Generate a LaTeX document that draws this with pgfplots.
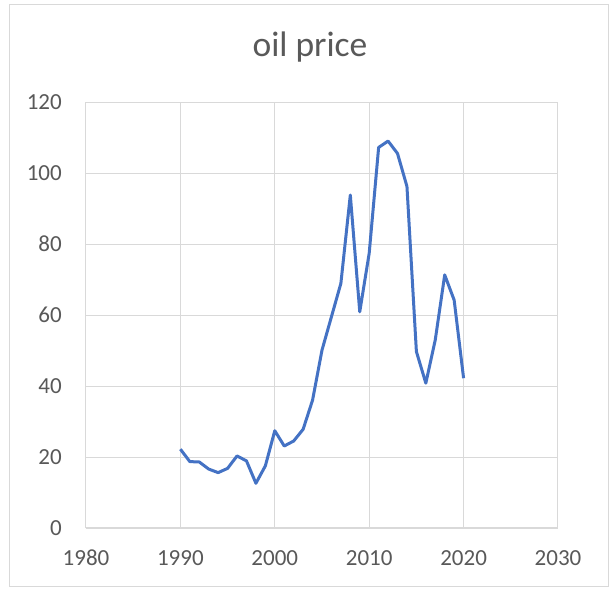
\documentclass[border=0pt]{standalone}
\usepackage{fontspec}
\setmainfont{Carlito}
\usepackage{pgfplots}
\pgfplotsset{compat=1.18}
\definecolor{excelblue}{HTML}{4472C4}
\definecolor{gridgray}{HTML}{D9D9D9}
\definecolor{textgray}{HTML}{595959}

\pgfplotstableread{
year price
1990 22.2
1991 18.7
1992 18.6
1993 16.6
1994 15.6
1995 16.8
1996 20.3
1997 18.9
1998 12.6
1999 17.5
2000 27.4
2001 23.1
2002 24.5
2003 27.8
2004 36.0
2005 50.1
2006 59.5
2007 68.9
2008 93.8
2009 60.9
2010 77.4
2011 107.2
2012 109.0
2013 105.5
2014 96.2
2015 49.7
2016 40.8
2017 53.0
2018 71.3
2019 64.2
2020 42.2
}\oilprice

\begin{document}
\begin{tikzpicture}
% page background and chart frame (units: 1pt = 1px of the reference)
\fill[white] (-86pt,-62pt) rectangle (525pt,528pt);
\draw[gridgray, line width=1pt] (-76pt,-58pt) rectangle (522pt,523pt);
\node[anchor=base, text=textgray, font=\fontsize{35.5}{40}\selectfont] at (224pt,471pt) {oil price};
\begin{axis}[
    at={(0pt,0pt)}, anchor=south west,
    width=472pt, height=426pt, scale only axis,
    xmin=1980, xmax=2030, ymin=0, ymax=120,
    xtick={1980,1990,...,2030}, ytick={0,20,...,120},
    grid=major, major grid style={gridgray, line width=1pt},
    axis line style={draw=none},
    axis x line*=bottom, axis y line*=left,
    x axis line style={draw=gridgray, line width=1.2pt},
    major tick length=0pt,
    tick label style={text=textgray, font=\fontsize{23}{27}\selectfont, inner sep=0pt},
    xticklabel style={yshift=-22pt},
    yticklabel style={xshift=-24pt},
    xticklabel={\pgfmathprintnumber[1000 sep={}]{\tick}},
    /pgf/number format/assume math mode=true,
    clip=false,
]
\addplot[excelblue, line width=3pt, line join=round, no markers] table[x=year, y=price] {\oilprice};
\end{axis}
\end{tikzpicture}
\end{document}
